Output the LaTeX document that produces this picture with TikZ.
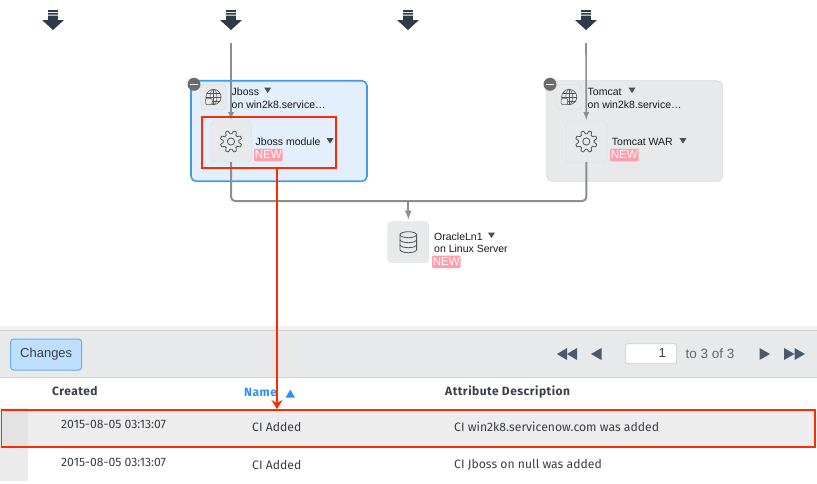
\documentclass[tikz,border=0pt]{standalone}
\usepackage{fontspec}
\setmainfont{Liberation Sans}
\newfontfamily\tablefont{Fira Sans}
\newfontfamily\headfont[LetterSpace=4]{Fira Sans}
\usetikzlibrary{arrows.meta}

\definecolor{redmark}{HTML}{FF2A00}
\definecolor{flowgray}{HTML}{8B8E92}
\definecolor{icongray}{HTML}{50555A}
\definecolor{boxgray}{HTML}{E8E9EB}
\definecolor{boxline}{HTML}{DADBDD}
\definecolor{panelblue}{HTML}{E3EFFC}
\definecolor{blueline}{HTML}{3F9BF0}
\definecolor{newpink}{HTML}{FF9FAE}
\definecolor{pagerdark}{HTML}{4A5A6A}
\definecolor{namecol}{HTML}{2F8EF5}
\definecolor{tabletext}{HTML}{3A3F45}
\definecolor{entrydark}{HTML}{2F3B47}

\tikzset{
    lbl/.style={inner sep=0pt,anchor=west,font=\fontsize{10.5}{12}\selectfont,text=black!90},
    tbl/.style={inner sep=0pt,anchor=west,font=\tablefont\fontsize{12.2}{14}\selectfont,text=tabletext},
    hdr/.style={inner sep=0pt,anchor=west,font=\headfont\bfseries\fontsize{12}{14}\selectfont,text=tabletext},
    newtag/.style={fill=newpink,rounded corners=1pt,inner sep=0pt,minimum width=28.5pt,minimum height=12.5pt,text=white,font=\fontsize{11.5}{12}\selectfont},
    iconbox/.style={draw=boxline,fill=boxgray,rounded corners=4pt,inner sep=0pt,minimum size=#1},
    minusdot/.style={circle,fill=black!58,inner sep=0pt,minimum size=13pt},
    flow/.style={draw=flowgray,line width=1.6pt},
    flowbig/.style={draw=flowgray,line width=2pt},
    caret/.style={fill=black!70},
    pagerbtn/.style={fill=pagerdark},
    pics/gear/.style={code={
        \draw[icongray,line width=.8pt] plot[domain=0:360,samples=145,variable=\t]
            ({\t+11}:{9.3+1.5*max(-1,min(1,1.8*sin(8*\t)))}) -- cycle;
        \draw[icongray,line width=.8pt] (0,0) circle (3.6);
    }},
    pics/globe/.style={code={
        \draw[icongray,line width=.6pt] (0,0) circle (7.6);
        \draw[icongray,line width=.5pt] (0,0) ellipse (3.4 and 7.6);
        \draw[icongray,line width=.5pt] (0,-7.6) -- (0,7.6) (-7.6,0) -- (7.6,0);
        \draw[icongray,line width=.5pt] (-6.4,-4) -- (6.4,-4) (-6.4,4) -- (6.4,4);
        \draw[icongray,fill=boxgray,line width=.5pt,rounded corners=1pt] (-8,1.5) rectangle (-1.5,7.5);
    }},
    pics/dbstack/.style={code={
        \draw[icongray,line width=.8pt] (-8.3,-7.5) -- (-8.3,7.5) arc[start angle=180,end angle=360,x radius=8.3,y radius=-3] -- (8.3,-7.5);
        \draw[icongray,line width=.8pt] (0,-7.5) ellipse (8.3 and 3);
        \draw[icongray,line width=.8pt] (-8.3,-2.5) arc[start angle=180,end angle=360,x radius=8.3,y radius=-3];
        \draw[icongray,line width=.8pt] (-8.3,2.5) arc[start angle=180,end angle=360,x radius=8.3,y radius=-3];
    }},
    pics/downicon/.style={code={
        \fill[entrydark] (-4.8,-10) rectangle (4.8,-8.2) (-4.8,-7.2) rectangle (4.8,-5.4) (-4.8,-4.4) rectangle (4.8,0);
        \fill[entrydark] (-11,0) -- (11,0) -- (0,10) -- cycle;
    }},
}

\begin{document}
\begin{tikzpicture}[x=1pt,y=-1pt]

    \useasboundingbox (0,0) rectangle (817,483);

    %%%%%%%%%%%%%%%%%%%%%%%%%%%%%%%%%%%%%%%%%%%%%%%%%%%%%%

    % entry icons on top
    \foreach \ax in {53,231,408,586}{
        \pic at (\ax,20) {downicon};
    }
    \coordinate (jbossin) at (231,43);
    \coordinate (tomcatin) at (586,43);

    %%%%%%%%%%%%%%%%%%%%%%%%%%%%%%%%%%%%%%%%%%%%%%%%%%%%%%

    % jboss group
    \node[draw=blueline,fill=panelblue,line width=1.6pt,rounded corners=5pt,inner sep=0pt,minimum width=176pt,minimum height=100.5pt] (jbossgroup) at (279,131) {};
    \node[iconbox=25.5pt] (jbossglobe) at (213.5,97) {};
    \pic at (jbossglobe) {globe};
    \node[lbl] (jbossname) at (231.5,92) {Jboss};
    \node[lbl] (jbosshost) at (231.5,104.5) {on win2k8.service\ldots};
    \fill[caret] (267.7,93) -- (264.2,87.5) -- (271.2,87.5) -- cycle;
    \node[iconbox=41pt] (jbossgear) at (231,141.5) {};
    \pic at (jbossgear) {gear};
    \node[lbl] (jbossmod) at (255.5,142) {Jboss module};
    \fill[caret] (330,143.5) -- (326.5,138) -- (333.5,138) -- cycle;
    \node[newtag] (jbossnew) at (268.3,155) {NEW};
    \node[minusdot] (jbossminus) at (194,84.3) {};
    \draw[white,line width=1.6pt] (190,84.3) -- (198,84.3);

    %%%%%%%%%%%%%%%%%%%%%%%%%%%%%%%%%%%%%%%%%%%%%%%%%%%%%%

    % tomcat group
    \node[draw=boxline,fill=boxgray,line width=.8pt,rounded corners=5pt,inner sep=0pt,minimum width=176pt,minimum height=100.5pt] (tomcatgroup) at (634.7,131) {};
    \node[iconbox=25.5pt] (tomcatglobe) at (569.2,97) {};
    \pic at (tomcatglobe) {globe};
    \node[lbl] (tomcatname) at (587.5,92) {Tomcat};
    \node[lbl] (tomcathost) at (587.5,104.5) {on win2k8.service\ldots};
    \fill[caret] (632,93) -- (628.5,87.5) -- (635.5,87.5) -- cycle;
    \node[iconbox=41pt] (tomcatgear) at (586.3,141.5) {};
    \pic at (tomcatgear) {gear};
    \node[lbl] (tomcatmod) at (611.7,142) {Tomcat WAR};
    \fill[caret] (683,143.5) -- (679.5,138) -- (686.5,138) -- cycle;
    \node[newtag] (tomcatnew) at (624.3,155) {NEW};
    \node[minusdot] (tomcatminus) at (550,84.3) {};
    \draw[white,line width=1.6pt] (546,84.3) -- (554,84.3);

    %%%%%%%%%%%%%%%%%%%%%%%%%%%%%%%%%%%%%%%%%%%%%%%%%%%%%%

    % oracle database
    \node[iconbox=41pt] (oraclebox) at (408.3,242.2) {};
    \pic at (oraclebox) {dbstack};
    \node[lbl] (oraclename) at (434,236.5) {OracleLn1};
    \node[lbl] (oraclehost) at (434,249) {on Linux Server};
    \fill[caret] (491.5,238) -- (488,232.5) -- (495,232.5) -- cycle;
    \node[newtag] (oraclenew) at (446.3,261.8) {NEW};

    %%%%%%%%%%%%%%%%%%%%%%%%%%%%%%%%%%%%%%%%%%%%%%%%%%%%%%

    % connectors
    \draw[flow,-{latex[length=5pt,width=5pt]},shorten >=1pt] (jbossin) to (jbossgear.north);
    \draw[flow,-{latex[length=5pt,width=5pt]},shorten >=1pt] (tomcatin) to (tomcatgear.north);
    \coordinate (merge) at (408.3,201);
    \draw[flowbig,rounded corners=4pt] (jbossgear.south) |- (merge) -| (tomcatgear.south);
    \draw[flowbig,-{latex[length=6pt,width=7pt]},shorten >=2pt] (merge) to (oraclebox.north);

    %%%%%%%%%%%%%%%%%%%%%%%%%%%%%%%%%%%%%%%%%%%%%%%%%%%%%%

    % toolbar
    \fill[black!6] (0,326) rectangle (817,331);
    \node[draw=black!18,fill=boxgray,line width=1pt,inner sep=0pt,minimum width=819pt,minimum height=47pt] (toolbar) at (408.5,354) {};
    \node[draw=blueline!80,fill=blue!50!cyan!25,line width=1pt,rounded corners=3pt,inner sep=0pt,minimum width=71pt,minimum height=31pt,text=tabletext,font=\fontsize{13}{15}\selectfont] (changes) at (46.2,354.5) {Changes};

    % pager
    \fill[pagerbtn] (557,354) -- (567,348) -- (567,360) -- cycle;
    \fill[pagerbtn] (567,354) -- (577,348) -- (577,360) -- cycle;
    \fill[pagerbtn] (591,354) -- (601.5,348) -- (601.5,360) -- cycle;
    \node[draw=black!20,fill=white,rounded corners=2pt,line width=.8pt,inner sep=0pt,minimum width=51pt,minimum height=20pt] (pagebox) at (651.2,353.8) {};
    \node[inner sep=0pt,anchor=east,font=\fontsize{13}{14}\selectfont,text=tabletext] (pagenum) at (666,353.5) {1};
    \node[inner sep=0pt,anchor=west,font=\fontsize{13.5}{14}\selectfont,text=tabletext!80] (pagetotal) at (685.5,353.5) {to 3 of 3};
    \fill[pagerbtn] (770,354) -- (759.5,348) -- (759.5,360) -- cycle;
    \fill[pagerbtn] (794.5,354) -- (784,348) -- (784,360) -- cycle;
    \fill[pagerbtn] (805,354) -- (794.5,348) -- (794.5,360) -- cycle;

    %%%%%%%%%%%%%%%%%%%%%%%%%%%%%%%%%%%%%%%%%%%%%%%%%%%%%%

    % table head
    \node[hdr] (created) at (52,391.5) {Created};
    \node[hdr,text=namecol] (namehead) at (244,392) {Name};
    \fill[namecol] (290.3,389.5) -- (295,397.7) -- (285.6,397.7) -- cycle;
    \node[hdr] (attrhead) at (445,391.5) {Attribute Description};

    % rows
    \fill[black!8] (0,408) rectangle (28,481);
    \node[fill=black!7,draw=redmark,line width=2pt,inner sep=0pt,minimum width=813pt,minimum height=37.3pt] (rowmark) at (408,428.7) {};
    \fill[black!11] (2,411) rectangle (28,446.3);
    \node[tbl] (dateone) at (61,424) {2015-08-05 03:13:07};
    \node[tbl] (nameone) at (252,426.5) {CI Added};
    \node[tbl] (attrone) at (454,426.5) {CI win2k8.servicenow.com was added};
    \node[tbl] (datetwo) at (61,462) {2015-08-05 03:13:07};
    \node[tbl] (nametwo) at (252,464.5) {CI Added};
    \node[tbl] (attrtwo) at (454,464.5) {CI Jboss on null was added};

    %%%%%%%%%%%%%%%%%%%%%%%%%%%%%%%%%%%%%%%%%%%%%%%%%%%%%%

    % red marks
    \node[draw=redmark,line width=2pt,inner sep=0pt,minimum width=134.6pt,minimum height=51.3pt] (jbossmark) at (269,142.4) {};
    \draw[redmark,line width=2pt,-{Stealth[length=9pt,width=11pt]}] ([xshift=8pt]jbossmark.south) to ([xshift=8pt]jbossmark.south |- rowmark.north);

\end{tikzpicture}
\end{document}
